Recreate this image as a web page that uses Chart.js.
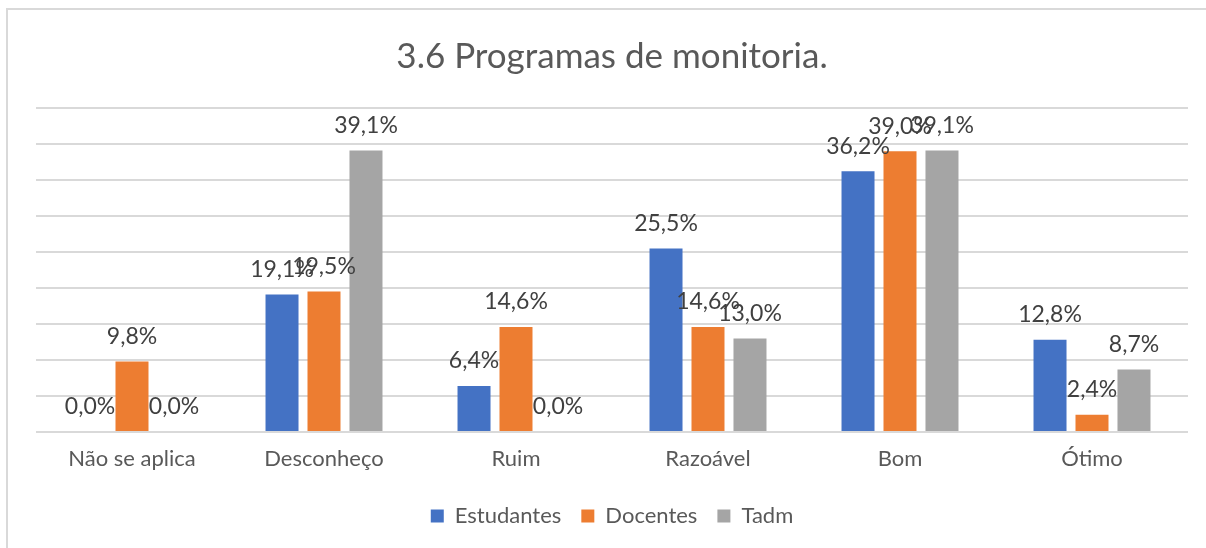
<!DOCTYPE html>
<html lang="pt">
<head>
    <meta charset="UTF-8">
    <title>3.6 Programas de monitoria.</title>
    <script src="https://cdn.jsdelivr.net/npm/chart.js"></script>
    <style>
        body { margin: 0; background: #fff; }
        #wrap { position: relative; width: 1206px; height: 548px; overflow: hidden; }
        #frame { position: absolute; left: 6px; top: 8px; width: 1300px; height: 600px;
                 border-left: 2px solid #d9d9d9; border-top: 2px solid #d9d9d9; }
        canvas { position: absolute; left: 0; top: 0; }
    </style>
</head>
<body>
    <div id="wrap">
        <div id="frame"></div>
        <canvas id="grafico" width="1206" height="548"></canvas>
    </div>

    <script>
        // Dados
        const categorias = ["Não se aplica", "Desconheço", "Ruim", "Razoável", "Bom", "Ótimo"];
        const estudantes = [0.0, 19.1, 6.4, 25.5, 36.2, 12.8];
        const docentes = [9.8, 19.5, 14.6, 14.6, 39.0, 2.4];
        const tadm = [0.0, 39.1, 0.0, 13.0, 39.1, 8.7];

        const fonte = "Lato, 'Liberation Sans', sans-serif";

        // rótulos de valor em cima das barras (ex: 39,1%)
        const rotulos = {
            id: 'rotulos',
            afterDatasetsDraw(chart) {
                const ctx = chart.ctx;
                ctx.save();
                ctx.font = '23px ' + fonte;
                ctx.fillStyle = '#404040';
                ctx.textAlign = 'center';
                ctx.textBaseline = 'middle';
                chart.data.datasets.forEach((ds, i) => {
                    chart.getDatasetMeta(i).data.forEach((bar, j) => {
                        const txt = ds.data[j].toFixed(1).replace('.', ',') + '%';
                        ctx.fillText(txt, bar.x, bar.y - 25);
                    });
                });
                ctx.restore();
            }
        };

        const ctx = document.getElementById('grafico').getContext('2d');
        const chart = new Chart(ctx, {
            type: 'bar',
            data: {
                labels: categorias,
                datasets: [
                    { label: 'Estudantes', data: estudantes, backgroundColor: '#4472C4' },
                    { label: 'Docentes', data: docentes, backgroundColor: '#ED7D31' },
                    { label: 'Tadm', data: tadm, backgroundColor: '#A5A5A5' }
                ]
            },
            options: {
                responsive: false,
                animation: false,
                categoryPercentage: 0.656,
                barPercentage: 0.786,
                layout: { padding: { left: 36, right: 18, top: 0, bottom: 11 } },
                plugins: {
                    title: {
                        display: true,
                        text: '3.6 Programas de monitoria.',
                        color: '#595959',
                        font: { family: fonte, size: 35, weight: 'normal' },
                        padding: { top: 36, bottom: 30 }
                    },
                    legend: {
                        position: 'bottom',
                        labels: {
                            color: '#595959',
                            font: { family: fonte, size: 22 },
                            boxWidth: 13,
                            boxHeight: 13,
                            padding: 20
                        }
                    },
                    tooltip: { enabled: false }
                },
                scales: {
                    x: {
                        grid: { display: false, drawTicks: false },
                        border: { display: false },
                        ticks: {
                            color: '#595959',
                            font: { family: fonte, size: 22, lineHeight: 0.68 },
                            padding: 19
                        }
                    },
                    y: {
                        min: 0,
                        max: 45,
                        ticks: { display: false, stepSize: 5 },
                        grid: { color: '#d9d9d9', lineWidth: 2, drawTicks: false },
                        border: { display: false }
                    }
                }
            },
            plugins: [rotulos]
        });
    </script>
</body>
</html>
